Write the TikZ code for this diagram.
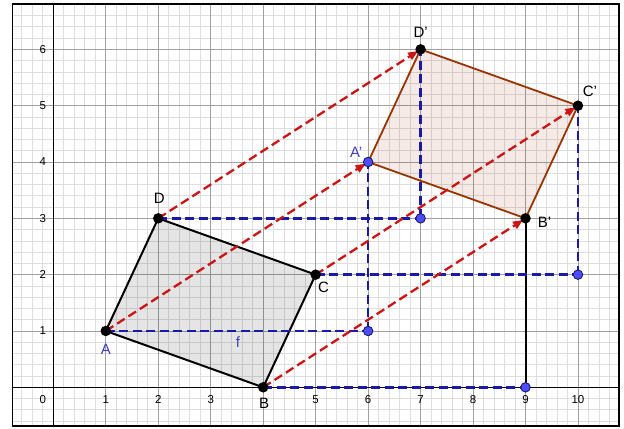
\documentclass[tikz,border=0pt]{standalone}
\usepackage{fontspec}
\setmainfont{Liberation Sans}
\usetikzlibrary{arrows.meta}
\definecolor{gridminor}{RGB}{222,222,222}
\definecolor{gridmajor}{RGB}{160,160,160}
\definecolor{vecred}{RGB}{204,20,20}
\definecolor{projblue}{RGB}{26,26,166}
\definecolor{ptblue}{RGB}{77,77,255}
\definecolor{ptrim}{RGB}{26,26,102}
\definecolor{lblblue}{RGB}{64,64,191}
\definecolor{imgbrown}{RGB}{153,51,0}
\tikzset{
  vec/.style={vecred,line width=2.3pt,dash pattern=on 9pt off 4.5pt,
    -{Triangle[length=10pt,width=8pt]},shorten >=3pt},
  proj/.style={projblue,line width=2.5pt,dash pattern=on 9pt off 4.5pt},
  dot/.style={circle,fill=black,inner sep=0pt,minimum size=10.5pt},
  bdot/.style={circle,fill=ptblue,draw=ptrim,line width=0.9pt,inner sep=0pt,minimum size=9.5pt},
  ticklbl/.style={font=\fontsize{11.5}{11.5}\selectfont,inner sep=0pt},
  ptlbl/.style={font=\fontsize{15}{15}\selectfont,inner sep=0pt}
}
\begin{document}
\begin{tikzpicture}[x=52.47pt,y=56.33pt]
  \useasboundingbox (-1.016,-0.7225) rectangle (10.877,6.876);
  % grid and axes
  \draw[gridminor,line width=0.7pt,step=0.2] (-0.778,-0.687) grid (10.78,6.804);
  \draw[gridmajor,line width=0.8pt,step=1] (-0.778,-0.687) grid (10.78,6.804);
  \draw[line width=1.1pt] (-0.778,0) -- (10.78,0);
  \draw[line width=1.1pt] (0,-0.687) -- (0,6.804);
  \draw[line width=1.8pt] (-0.778,-0.687) rectangle (10.78,6.804);
  \foreach \i in {1,2,3,5,6,7,8,9,10}
    \node[ticklbl] (tx\i) at (\i,-0.21) {\i};
  \foreach \j in {1,...,6}
    \node[ticklbl] (ty\j) at (-0.2,\j) {\j};
  \node[ticklbl] (t0) at (-0.2,-0.21) {0};
  % points
  \coordinate (A) at (1,1);
  \coordinate (B) at (4,0);
  \coordinate (C) at (5,2);
  \coordinate (D) at (2,3);
  \coordinate (Ap) at (6,4);
  \coordinate (Bp) at (9,3);
  \coordinate (Cp) at (10,5);
  \coordinate (Dp) at (7,6);
  \coordinate (tA) at (6,1);
  \coordinate (tB) at (9,0);
  \coordinate (tC) at (10,2);
  \coordinate (tD) at (7,3);
  % quadrilaterals
  \filldraw[fill=black,fill opacity=0.1,line width=2pt] (A) -- (B) -- (C) -- (D) -- cycle;
  \filldraw[draw=imgbrown,fill=imgbrown,fill opacity=0.1,line width=1.8pt]
    (Ap) -- (Bp) -- (Cp) -- (Dp) -- cycle;
  % steps of the translation
  \draw[proj] (A) -- (tA);
  \draw[proj] (tA) -- (Ap);
  \draw[proj] (B) -- (tB);
  \draw[line width=2pt] (tB) -- (Bp);
  \draw[proj] (C) -- (tC);
  \draw[proj] (tC) -- (Cp);
  \draw[proj] (D) -- (tD);
  \draw[proj] (tD) -- (Dp);
  \draw[vec] (A) -- (Ap);
  \draw[vec] (B) -- (Bp);
  \draw[vec] (C) -- (Cp);
  \draw[vec] (D) -- (Dp);
  % dots and labels
  \foreach \p in {A,B,C,D,Bp,Cp,Dp}
    \node[dot] (n\p) at (\p) {};
  \foreach \p in {Ap,tA,tB,tC,tD}
    \node[bdot] (n\p) at (\p) {};
  \node[ptlbl,lblblue] (lA) at (A) [yshift=-18pt] {A};
  \node[ptlbl] (lB) at (B) [xshift=1pt,yshift=-16pt] {B};
  \node[ptlbl] (lC) at (C) [xshift=8pt,yshift=-13pt] {C};
  \node[ptlbl] (lD) at (D) [xshift=1pt,yshift=20pt] {D};
  \node[ptlbl,lblblue] (lAp) at (Ap) [xshift=-12pt,yshift=10pt] {A'};
  \node[ptlbl] (lBp) at (Bp) [xshift=19pt,yshift=-4pt] {B'};
  \node[ptlbl] (lCp) at (Cp) [xshift=12pt,yshift=14pt] {C'};
  \node[ptlbl] (lDp) at (Dp) [yshift=17pt] {D'};
  \node[ptlbl,lblblue] (lf) at (3.52,0.80) {f};
\end{tikzpicture}
\end{document}
